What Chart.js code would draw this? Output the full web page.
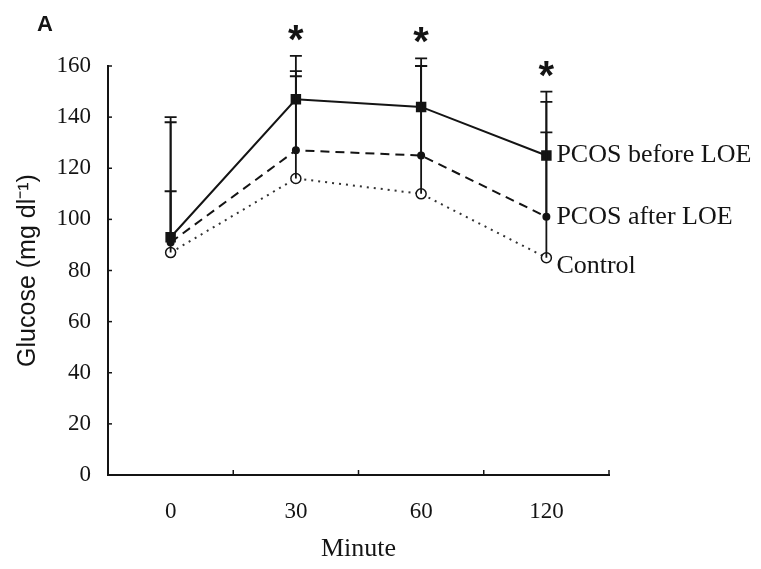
<!DOCTYPE html>
<html lang="en">
<head>
<meta charset="UTF-8">
<title>Glucose</title>
<style>
  html, body { margin: 0; padding: 0; background: #fff; }
  #wrap { width: 761px; height: 569px; position: relative; }
</style>
</head>
<body>
<div id="wrap"><canvas id="glucoseChart" width="761" height="569"></canvas></div>
<script src="https://cdn.jsdelivr.net/npm/chart.js"></script>
<script>
// data
var minutes = ['0', '30', '60', '120'];
var seriesNames = ['PCOS before LOE', 'PCOS after LOE', 'Control'];
var beforeLOE = [93, 147, 144, 125];
var afterLOE = [91, 127, 125, 101];
var control = [87, 116, 110, 85];
// upper end of the error bars
var beforeUpper = [140, 164, 163, 150];
var afterUpper = [138, 158, 160, 146];
var controlUpper = [111, 156, 160, 134];
var significant = [false, true, true, true];
var yTicks = [0, 20, 40, 60, 80, 100, 120, 140, 160];

var ink = '#141414';

// error bars, inward tick marks, asterisks and end labels
var extras = {
    id: 'extras',
    afterDatasetsDraw: function(chart) {
        var c = chart.ctx;
        var xs = chart.scales.x, ys = chart.scales.y;
        var uppers = [beforeUpper, afterUpper, controlUpper];
        var values = [beforeLOE, afterLOE, control];
        c.save();
        c.strokeStyle = ink;
        c.fillStyle = ink;
        c.lineWidth = 1.8;
        c.setLineDash([]);
        for (var s = 0; s < uppers.length; s++) {
            for (var i = 0; i < minutes.length; i++) {
                var px = xs.getPixelForValue(i);
                var y0 = ys.getPixelForValue(values[s][i]);
                var y1 = ys.getPixelForValue(uppers[s][i]);
                c.beginPath();
                c.moveTo(px, y0);
                c.lineTo(px, y1);
                c.moveTo(px - 6, y1);
                c.lineTo(px + 6, y1);
                c.stroke();
            }
        }
        // asterisks
        c.font = 'bold 40px "Liberation Sans"';
        c.textAlign = 'center';
        c.textBaseline = 'middle';
        for (var i = 0; i < minutes.length; i++) {
            if (!significant[i]) continue;
            var top = Math.max(beforeUpper[i], afterUpper[i], controlUpper[i]);
            c.fillText('*', xs.getPixelForValue(i), ys.getPixelForValue(top) - 14);
        }
        // tick marks pointing into the plot
        c.lineWidth = 1.5;
        yTicks.forEach(function(v) {
            var py = ys.getPixelForValue(v);
            c.beginPath();
            c.moveTo(xs.left, py);
            c.lineTo(xs.left + 4, py);
            c.stroke();
        });
        for (var i = 1; i <= minutes.length; i++) {
            var bx = xs.left + (xs.right - xs.left) * i / minutes.length;
            c.beginPath();
            c.moveTo(bx, ys.bottom);
            c.lineTo(bx, ys.bottom - 5);
            c.stroke();
        }
        // series labels at the last point
        c.font = '26px "Liberation Serif"';
        c.textAlign = 'left';
        var last = minutes.length - 1;
        for (var s = 0; s < values.length; s++) {
            var ly = ys.getPixelForValue(values[s][last]);
            if (s === values.length - 1) ly += 8;
            c.fillText(seriesNames[s], xs.getPixelForValue(last) + 10, ly);
        }
        // panel letter
        c.font = 'bold 22px "Liberation Sans"';
        c.fillText('A', 37, 25);
        c.restore();
    }
};

new Chart(document.getElementById('glucoseChart'), {
    type: 'line',
    data: {
        labels: minutes,
        datasets: [
            {
                label: seriesNames[0],
                data: beforeLOE,
                borderColor: ink,
                borderWidth: 2,
                pointStyle: 'rect',
                pointRadius: 6,
                pointBackgroundColor: ink,
                pointBorderColor: ink
            },
            {
                label: seriesNames[1],
                data: afterLOE,
                borderColor: ink,
                borderWidth: 2,
                borderDash: [9, 6],
                pointStyle: 'circle',
                pointRadius: 3,
                pointBackgroundColor: ink,
                pointBorderColor: ink
            },
            {
                label: seriesNames[2],
                data: control,
                borderColor: '#333',
                borderWidth: 2,
                borderDash: [2, 5],
                pointStyle: 'circle',
                pointRadius: 5,
                pointBackgroundColor: '#fff',
                pointBorderColor: ink,
                pointBorderWidth: 1.5
            }
        ]
    },
    options: {
        responsive: false,
        animation: false,
        devicePixelRatio: 1,
        layout: { padding: { top: 66, right: 152, left: 0, bottom: 0 } },
        scales: {
            x: {
                offset: true,
                afterFit: function(scale) { scale.height = 94; },
                grid: { display: true, drawOnChartArea: false, drawTicks: false, offset: true },
                border: { display: true, color: ink, width: 2 },
                ticks: {
                    padding: 23,
                    color: ink,
                    font: { size: 23, family: 'Liberation Serif' }
                },
                title: {
                    display: true,
                    text: 'Minute',
                    color: ink,
                    padding: { top: 0 },
                    font: { size: 26, family: 'Liberation Serif' }
                }
            },
            y: {
                min: 0,
                max: 160,
                afterFit: function(scale) { scale.width = 108; },
                grid: { display: true, drawOnChartArea: false, drawTicks: false },
                border: { display: true, color: ink, width: 2 },
                ticks: {
                    stepSize: 20,
                    padding: 17,
                    color: ink,
                    font: { size: 23, family: 'Liberation Serif' }
                },
                title: {
                    display: true,
                    text: 'Glucose (mg dl\u207B\u00B9)',
                    color: ink,
                    padding: { top: 13, bottom: 0 },
                    font: { size: 25, family: 'Liberation Sans' }
                }
            }
        },
        plugins: {
            legend: { display: false },
            tooltip: { enabled: false }
        }
    },
    plugins: [extras]
});
</script>
</body>
</html>
